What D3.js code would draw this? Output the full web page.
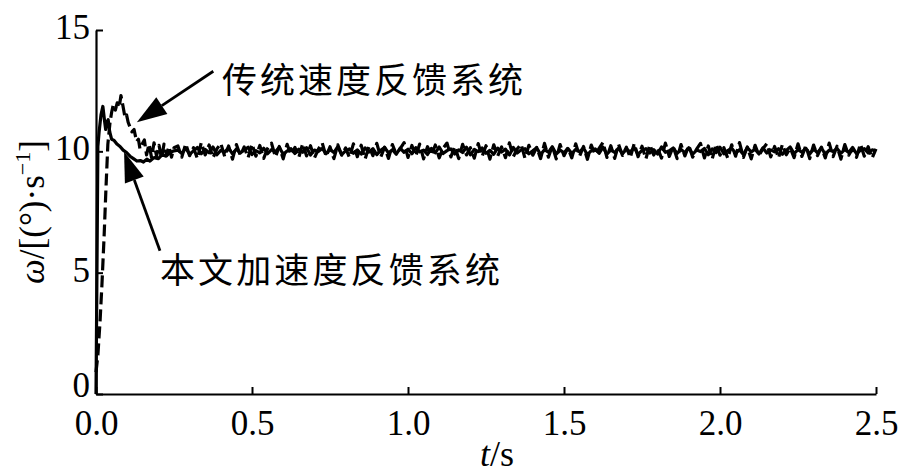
<!DOCTYPE html>
<html><head><meta charset="utf-8">
<script src="https://cdn.jsdelivr.net/npm/d3@7"></script>
<style>body{margin:0;background:#fff}svg{display:block}</style>
</head><body>
<script>
// ---------- data ----------
const xTicks = [0, 0.5, 1.0, 1.5, 2.0, 2.5];
const yTicks = [0, 5, 10, 15];
const xLabel = "t/s";
const seriesNames = ["传统速度反馈系统", "本文加速度反馈系统"];

// 本文加速度反馈系统 (solid) transient
const solidT = [0, 0.003, 0.006, 0.01, 0.016, 0.022, 0.027, 0.031, 0.035, 0.039, 0.044, 0.05, 0.058, 0.067, 0.077, 0.087, 0.098, 0.109, 0.12, 0.131, 0.142, 0.152, 0.163, 0.173, 0.186, 0.2, 0.212, 0.225, 0.237, 0.25];
const solidV = [0, 5.0, 10.2, 10.8, 11.5, 11.85, 11.3, 10.9, 11.2, 11.3, 10.8, 10.5, 10.45, 10.3, 10.2, 10.05, 9.95, 9.8, 9.7, 9.6, 9.62, 9.56, 9.68, 9.6, 9.74, 9.7, 9.86, 9.8, 9.95, 10.02];
// 传统速度反馈系统 (dashed) transient
const dashedT = [0, 0.006, 0.013, 0.019, 0.026, 0.032, 0.038, 0.045, 0.05, 0.055, 0.062, 0.068, 0.074, 0.08, 0.086, 0.093, 0.098, 0.103, 0.109, 0.115, 0.122, 0.13, 0.136, 0.141, 0.148, 0.155, 0.162, 0.17, 0.178, 0.186, 0.194, 0.202, 0.21, 0.218, 0.226, 0.234, 0.242, 0.25];
const dashedV = [0.9, 1.6, 3.0, 4.5, 6.5, 8.5, 10.3, 11.2, 11.6, 11.9, 11.7, 12.0, 11.8, 12.3, 11.9, 11.4, 11.5, 11.2, 11.0, 10.8, 10.9, 10.4, 10.5, 10.1, 10.3, 10.47, 9.85, 10.3, 9.75, 10.35, 9.8, 10.25, 9.7, 10.3, 9.85, 10.2, 9.76, 10.15];

// steady state, sampled every 0.0125 s starting at t = 0.2625
const steadyStart = 0.2625, steadyStep = 0.0125;
const solidSteady = [
10.05, 9.91, 10.13, 9.88, 10.02, 10.16, 9.90, 10.08, 9.94, 10.18,
9.86, 10.04, 9.97, 10.14, 9.89, 10.10, 9.93, 10.06, 10.17, 9.87,
10.03, 9.94, 10.13, 9.90, 10.07, 9.98, 10.17, 9.88, 10.01, 10.11,
9.91, 10.09, 9.96, 10.15, 9.85, 10.05, 9.99, 10.12, 9.90, 10.08,
9.95, 10.19, 9.87, 10.02, 10.10, 9.92, 10.06, 9.89, 10.14, 9.97,
10.11, 9.86, 10.04, 10.16, 9.93, 10.07, 9.88, 10.13, 9.96, 10.09,
9.90, 10.15, 9.98, 10.05, 9.87, 10.12, 9.94, 10.18, 9.91, 10.03,
10.10, 9.89, 10.06, 9.95, 10.17, 9.86, 10.08, 9.99, 10.14, 9.92,
10.04, 9.88, 10.13, 9.97, 10.09, 9.85, 10.16, 9.93, 10.06, 10.11,
9.90, 10.02, 10.15, 9.87, 10.07, 9.96, 10.19, 9.89, 10.05, 9.94,
10.12, 9.91, 10.08, 9.98, 10.14, 9.86, 10.03, 10.10, 9.92, 10.17,
9.88, 10.06, 9.95, 10.13, 9.90, 10.09, 9.97, 10.16, 9.87, 10.04,
10.11, 9.93, 10.07, 9.89, 10.18, 9.96, 10.02, 10.14, 9.91, 10.08,
9.94, 10.15, 9.88, 10.05, 9.99, 10.12, 9.86, 10.10, 9.95, 10.17,
9.90, 10.03, 10.13, 9.92, 10.07, 9.87, 10.16, 9.97, 10.09, 9.89,
10.14, 9.93, 10.06, 9.98, 10.11, 9.88, 10.04, 10.18, 9.91, 10.07,
9.96, 10.13, 9.89, 10.10, 9.94, 10.15, 9.87, 10.05, 9.99, 10.12,
9.92, 10.08, 9.95, 10.16, 9.90, 10.04, 10.11, 9.93, 10.06, 10.02];
const dashedSteady = [
10.22, 9.76, 10.31, 9.82, 10.15, 9.70, 10.36, 9.85, 10.26, 9.73,
10.10, 10.33, 9.78, 10.22, 9.68, 10.28, 9.83, 10.18, 9.74, 10.30,
9.80, 10.24, 9.71, 10.12, 10.34, 9.77, 10.20, 9.69, 10.29, 9.86,
10.16, 9.75, 10.32, 9.81, 10.23, 9.72, 10.08, 10.35, 9.79, 10.19,
9.70, 10.27, 9.84, 10.14, 9.74, 10.31, 9.78, 10.25, 9.68, 10.21,
9.82, 10.33, 9.76, 10.17, 9.71, 10.28, 9.87, 10.11, 10.36, 9.75,
10.24, 9.80, 10.30, 9.69, 10.19, 9.83, 10.26, 9.73, 10.13, 10.34,
9.77, 10.21, 9.70, 10.29, 9.85, 10.15, 9.72, 10.32, 9.79, 10.23,
9.68, 10.27, 9.81, 10.18, 9.74, 10.35, 9.78, 10.10, 10.30, 9.71,
10.25, 9.84, 10.16, 9.70, 10.33, 9.76, 10.22, 9.69, 10.28, 9.82,
10.14, 9.73, 10.31, 9.80, 10.20, 9.67, 10.26, 9.86, 10.12, 10.37,
9.75, 10.23, 9.71, 10.29, 9.83, 10.17, 9.74, 10.32, 9.78, 10.21,
9.69, 10.27, 9.85, 10.13, 9.72, 10.34, 9.79, 10.19, 9.70, 10.28,
9.81, 10.24, 9.76, 10.09, 10.33, 9.73, 10.22, 9.68, 10.30, 9.84,
10.15, 9.71, 10.27, 9.80, 10.36, 9.75, 10.18, 9.69, 10.25, 9.83,
10.11, 10.32, 9.77, 10.20, 9.72, 10.29, 9.86, 10.14, 9.74, 10.31,
9.79, 10.23, 9.70, 10.26, 9.82, 10.17, 9.73, 10.34, 9.78, 10.21,
9.68, 10.28, 9.84, 10.12, 9.75, 10.30, 9.80, 10.19, 9.72, 10.10];

// annotations (data coordinates): [tail t, tail v, tip t, tip v]
const arrowDashed = [0.376, 13.3, 0.131, 11.2];
const arrowSolid = [0.205, 5.9, 0.09, 9.98];

// ---------- build ----------
const W = 900, H = 476;
const m = {left: 96, right: 24, top: 30, bottom: 82};
const svg = d3.select("body").append("svg").attr("width", W).attr("height", H);
const x = d3.scaleLinear().domain([0, 2.5]).range([m.left, W - m.right]);
const y = d3.scaleLinear().domain([0, 15]).range([H - m.bottom, m.top]);

function build(tArr, vArr, steady) {
  const pts = tArr.map((t, i) => [t, vArr[i]]);
  steady.forEach((v, i) => pts.push([steadyStart + i * steadyStep, v]));
  return pts;
}
const solidPts = build(solidT, solidV, solidSteady);
const dashedPts = build(dashedT, dashedV, dashedSteady);

const line = d3.line().x(d => x(d[0])).y(d => y(d[1]));

svg.append("path").datum(dashedPts).attr("d", line)
  .attr("fill", "none").attr("stroke", "#000").attr("stroke-width", 3.2)
  .attr("stroke-dasharray", "12,5").attr("stroke-linejoin", "round");
svg.append("path").datum(solidPts).attr("d", line)
  .attr("fill", "none").attr("stroke", "#000").attr("stroke-width", 3.2)
  .attr("stroke-linejoin", "round");

// axes
const font = "'Liberation Serif','Times New Roman',serif";
const xAxis = d3.axisBottom(x).tickValues(xTicks).tickFormat(d3.format(".1f")).tickSizeInner(-7).tickSizeOuter(0).tickPadding(16);
const yAxis = d3.axisLeft(y).tickValues(yTicks).tickFormat(d3.format("d")).tickSizeInner(-7).tickSizeOuter(0).tickPadding(6);
const gx = svg.append("g").attr("transform", `translate(0,${y(0)})`).call(xAxis);
const gy = svg.append("g").attr("transform", `translate(${x(0)},0)`).call(yAxis);
[gx, gy].forEach(g => {
  g.select(".domain").attr("stroke", "#000").attr("stroke-width", 2.2);
  g.selectAll(".tick line").attr("stroke", "#000").attr("stroke-width", 2);
  g.selectAll(".tick text").attr("font-family", font).attr("font-size", 35).attr("fill", "#000");
});
gx.selectAll(".tick text").attr("dy", "0.7em");
gy.selectAll(".tick text").attr("dy", d => d === 0 ? "0.06em" : "0.24em");

// axis titles
svg.append("text").attr("x", 497).attr("y", 466).attr("text-anchor", "middle")
  .attr("font-family", font).attr("font-size", 36)
  .html('<tspan font-style="italic">t</tspan>/s');
svg.append("text").attr("transform", "translate(44,212) rotate(-90)").attr("text-anchor", "middle")
  .attr("font-family", font).attr("font-size", 35)
  .html('<tspan font-style="italic">ω</tspan>/[(°)·s<tspan dy="-14" font-size="22">−1</tspan><tspan dy="14">]</tspan>');

// annotations
function arrow(a) {
  const x1 = x(a[0]), y1 = y(a[1]), x2 = x(a[2]), y2 = y(a[3]);
  const ang = Math.atan2(y2 - y1, x2 - x1), L = 30, hw = 10;
  const bx = x2 - L * Math.cos(ang), by = y2 - L * Math.sin(ang);
  svg.append("line").attr("x1", x1).attr("y1", y1).attr("x2", bx).attr("y2", by)
    .attr("stroke", "#000").attr("stroke-width", 2.8);
  const px = -Math.sin(ang) * hw, py = Math.cos(ang) * hw;
  svg.append("path").attr("d", `M${x2},${y2}L${bx + px},${by + py}L${bx - px},${by - py}Z`).attr("fill", "#000");
}
arrow(arrowDashed);
arrow(arrowSolid);

const cjk = "'Noto Sans CJK SC','Noto Sans CJK JP',sans-serif";
svg.append("text").attr("x", 222).attr("y", 93).attr("font-family", cjk).attr("font-size", 35)
  .attr("textLength", 301).attr("lengthAdjust", "spacing").text(seriesNames[0]);
svg.append("text").attr("x", 160).attr("y", 283).attr("font-family", cjk).attr("font-size", 35)
  .attr("textLength", 340).attr("lengthAdjust", "spacing").text(seriesNames[1]);
</script>
</body></html>
